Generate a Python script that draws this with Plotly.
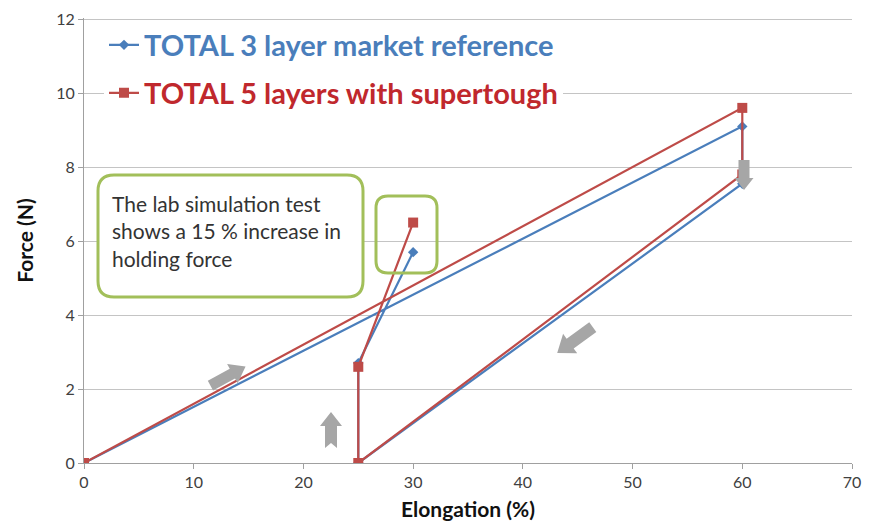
import math
import plotly.graph_objects as go

# ---------------- data ----------------
blue_name = "TOTAL 3 layer market reference"
red_name = "TOTAL 5 layers with supertough"
blue_x = [0, 60, 60, 25, 25, 30]
blue_y = [0, 9.1, 7.55, 0, 2.7, 5.7]
red_x = [0, 60, 60, 25, 25, 30]
red_y = [0, 9.6, 7.8, 0, 2.6, 6.5]
x_ticks = [0, 10, 20, 30, 40, 50, 60, 70]
y_ticks = [0, 2, 4, 6, 8, 10, 12]
note_text = "The lab simulation test<br>shows a 15 % increase in<br>holding force"

BLUE = "#4a7ebb"
RED = "#be4b48"
GREEN = "#a2bf5a"
ARROW = "#a6a6a6"
FONT = "Lato"

W, H = 877, 525
OFF = 8  # page body margin of the viewer
# target plot area in screen px: left 84, right 852, top ~18, bottom 463
L, T = 84 - OFF, 18 - OFF
R, B = W - (852 - OFF), H - (463 - OFF)
PW, PH = W - L - R, H - T - B
XMAX, YMAX = 70, 12.03
SX, SY = PW / XMAX, PH / YMAX  # px per data unit


def to_data(px, py):
    """screen px -> data coords"""
    return (px - OFF - L) / SX, (H - B - (py - OFF)) / SY


def paper_y(py):
    return (H - B - (py - OFF)) / PH


def paper_x(px):
    return (px - OFF - L) / PW


def arrow_path(cx, cy, ang, length, sw, hw, hl, notch=0.0):
    """block arrow centred at data (cx, cy), angle in degrees (y up), sizes in px"""
    cpx, cpy = L + cx * SX, H - B - cy * SY
    ux, uy = math.cos(math.radians(ang)), -math.sin(math.radians(ang))
    vx, vy = -uy, ux
    pts_local = [(-length / 2, sw / 2), (length / 2 - hl, sw / 2), (length / 2 - hl, hw / 2),
                 (length / 2, 0), (length / 2 - hl, -hw / 2), (length / 2 - hl, -sw / 2),
                 (-length / 2, -sw / 2)]
    if notch:
        pts_local.append((-length / 2 + notch, 0))
    pts = []
    for a, b in pts_local:
        px = cpx + a * ux + b * vx
        py = cpy + a * uy + b * vy
        pts.append(((px - L) / SX, (H - B - py) / SY))
    return "M " + " L ".join(f"{x:.4f},{y:.4f}" for x, y in pts) + " Z"


def rounded_rect(x0, y0, x1, y1, rpx):
    rx, ry = rpx / SX, rpx / SY
    return (f"M {x0 + rx},{y0} L {x1 - rx},{y0} Q {x1},{y0} {x1},{y0 + ry} "
            f"L {x1},{y1 - ry} Q {x1},{y1} {x1 - rx},{y1} "
            f"L {x0 + rx},{y1} Q {x0},{y1} {x0},{y1 - ry} "
            f"L {x0},{y0 + ry} Q {x0},{y0} {x0 + rx},{y0} Z")


fig = go.Figure()
fig.add_trace(go.Scatter(
    x=blue_x, y=blue_y, name=blue_name, mode="lines+markers",
    line=dict(color=BLUE, width=2.2),
    marker=dict(symbol="diamond", size=8, color=BLUE),
    legend="legend", showlegend=True,
))
fig.add_trace(go.Scatter(
    x=red_x, y=red_y, name=red_name, mode="lines+markers",
    line=dict(color=RED, width=2.2),
    marker=dict(symbol="square", size=10, color=RED),
    legend="legend2", showlegend=True,
))

shapes = [
    dict(type="path", xref="x", yref="y", layer="above",
         path=rounded_rect(*to_data(98, 297), *to_data(363, 175), 16),
         line=dict(color=GREEN, width=3), fillcolor="white"),
    dict(type="path", xref="x", yref="y", layer="above",
         path=rounded_rect(*to_data(376, 273), *to_data(437, 196), 12),
         line=dict(color=GREEN, width=3), fillcolor="rgba(0,0,0,0)"),
]
arrows = [
    (*to_data(228, 376), 28.6, 40, 11, 22, 15, 0),
    (*to_data(331, 430), 90, 36, 12, 22, 14, 5),
    (*to_data(744, 175), -90, 30, 11, 19, 12, 0),
    (*to_data(575, 340), 216, 44, 12, 24, 16, 0),
]
for a in arrows:
    shapes.append(dict(type="path", xref="x", yref="y", layer="above",
                       path=arrow_path(*a), line=dict(width=0), fillcolor=ARROW))

fig.update_layout(
    width=W, height=H,
    margin=dict(l=L, r=R, t=T, b=B, autoexpand=False),
    paper_bgcolor="white", plot_bgcolor="white",
    font=dict(family=FONT, color="#404040", size=16),
    showlegend=True,
    shapes=shapes,
    annotations=[dict(
        text=note_text, xref="x", yref="y", x=to_data(111, 0)[0], y=to_data(0, 231)[1],
        xanchor="left", yanchor="middle", align="left", showarrow=False,
        font=dict(family=FONT, size=21, color="#333333"), borderpad=0,
    )],
    legend=dict(
        x=paper_x(104), y=paper_y(45), xanchor="left", yanchor="middle",
        bgcolor="white", borderwidth=0,
        font=dict(family=FONT, size=29, color=BLUE, weight="bold"),
    ),
    legend2=dict(
        x=paper_x(104), y=paper_y(93), xanchor="left", yanchor="middle",
        bgcolor="white", borderwidth=0,
        font=dict(family=FONT, size=29, color="#c0282d", weight="bold"),
    ),
    xaxis=dict(
        range=[0, XMAX], tickvals=x_ticks, showgrid=False, zeroline=False,
        showline=True, linecolor="#a0a0a0", linewidth=1, automargin=False,
        ticks="outside", ticklen=5, tickcolor="#a0a0a0",
        tickfont=dict(size=16, color="#404040"),
        title=dict(text="Elongation (%)", standoff=12,
                   font=dict(size=21, color="#111111", weight="bold")),
    ),
    yaxis=dict(
        range=[0, YMAX], tickvals=y_ticks, showgrid=True, gridcolor="#c4c4c4",
        gridwidth=1, zeroline=False, automargin=False, ticklabeloverflow="allow",
        showline=True, linecolor="#a0a0a0", linewidth=1,
        ticks="outside", ticklen=5, tickcolor="#a0a0a0",
        tickfont=dict(size=16, color="#404040"),
        title=dict(text="Force (N)", standoff=16,
                   font=dict(size=21, color="#111111", weight="bold")),
    ),
)

fig.write_html("out.html")
